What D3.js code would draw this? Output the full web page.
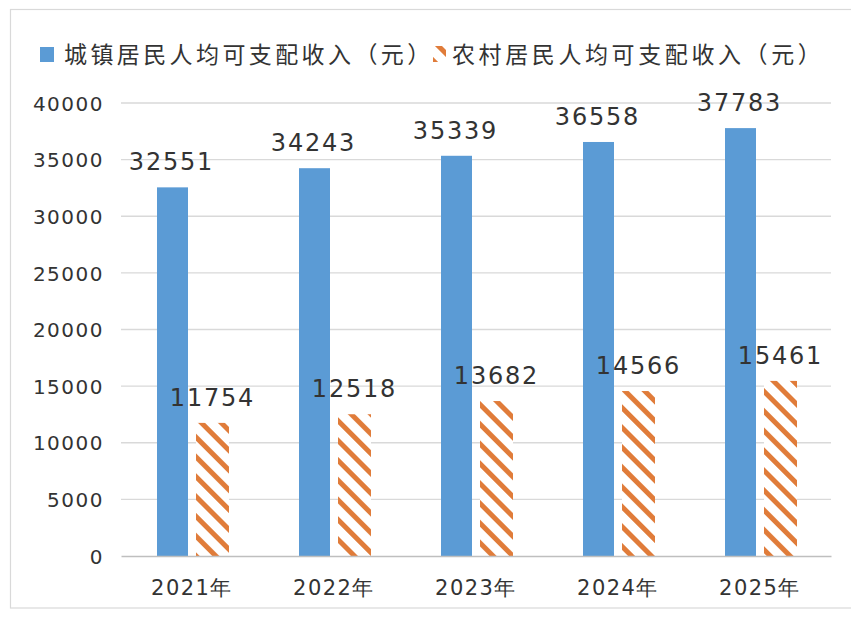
<!DOCTYPE html>
<html><head><meta charset="utf-8">
<script src="https://cdn.jsdelivr.net/npm/d3@7/dist/d3.min.js"></script>
<style>html,body{margin:0;padding:0;background:#fff;}</style>
</head><body>
<svg id="c" width="851" height="619"></svg>
<script>
const categories = ["2021年","2022年","2023年","2024年","2025年"];
const seriesNames = ["城镇居民人均可支配收入（元）","农村居民人均可支配收入（元）"];
const urban = [32551, 34243, 35339, 36558, 37783];
const rural = [11754, 12518, 13682, 14566, 15461];
const yTicks = [0,5000,10000,15000,20000,25000,30000,35000,40000];

const svg = d3.select("#c");
const blue = "#5b9bd5", orange = "#e07c3a";
const numFont = "'DejaVu Sans', sans-serif";
const cjkFont = "'Noto Sans CJK SC', sans-serif";
const txt = "#333333";

// frame
svg.append("rect").attr("x",10.5).attr("y",9.5).attr("width",860).attr("height",598.5)
  .attr("fill","none").attr("stroke","#d9d9d9").attr("stroke-width",1.2);

const defs = svg.append("defs");
const pat = defs.append("pattern").attr("id","hatch").attr("patternUnits","userSpaceOnUse")
  .attr("width",14).attr("height",14).attr("patternTransform","rotate(45)");
pat.append("rect").attr("width",14).attr("height",14).attr("fill","#fff");
pat.append("rect").attr("x",0).attr("y",0).attr("width",14).attr("height",5).attr("fill",orange);

const x0 = d3.scaleBand().domain(categories).range([121, 831]).paddingInner(0).paddingOuter(0);
const y = d3.scaleLinear().domain([0,40000]).range([556,103]);

// gridlines
svg.append("g").selectAll("line").data(yTicks.filter(d=>d>0)).join("line")
  .attr("x1",121).attr("x2",831).attr("y1",d=>y(d)).attr("y2",d=>y(d))
  .attr("stroke","#d9d9d9").attr("stroke-width",1.3);

// y axis labels
const yAxis = d3.axisLeft(y).tickValues(yTicks).tickSize(0).tickPadding(0).tickFormat(d3.format("d"));
const ya = svg.append("g").attr("transform","translate(104,0)").call(yAxis);
ya.select(".domain").remove();
ya.selectAll("text").attr("font-family",numFont).attr("font-size",20).attr("fill",txt)
  .attr("letter-spacing","1.5px").attr("dy","0.36em");

// bars
const bw = 31, ow = 33, gap = 8;
const groupW = bw + gap + ow;
const g = svg.append("g");
categories.forEach((c,i)=>{
  const gx = x0(c) + (x0.bandwidth()-groupW)/2 + 1;
  g.append("rect").attr("x",gx).attr("y",y(urban[i])).attr("width",bw).attr("height",y(0)-y(urban[i])).attr("fill",blue);
  g.append("rect").attr("x",gx+bw+gap).attr("y",y(rural[i])).attr("width",ow).attr("height",y(0)-y(rural[i])).attr("fill","url(#hatch)");
  g.append("text").attr("x",gx+bw/2-1).attr("y",y(urban[i])-17).attr("text-anchor","middle")
    .attr("font-family",numFont).attr("font-size",24).attr("letter-spacing","1.8px").attr("fill",txt).text(urban[i]);
  g.append("text").attr("x",gx+bw+gap+ow/2).attr("y",y(rural[i])-17).attr("text-anchor","middle")
    .attr("font-family",numFont).attr("font-size",24).attr("letter-spacing","1.8px").attr("fill",txt).text(rural[i]);
});

// x axis
const xAxis = d3.axisBottom(x0).tickSize(0).tickPadding(0);
const xa = svg.append("g").attr("transform",`translate(0,${y(0)})`).call(xAxis);
xa.select(".domain").attr("stroke","#bfbfbf").attr("stroke-width",1.5);
xa.selectAll("text").attr("font-family",numFont).attr("font-size",21).attr("fill",txt)
  .attr("letter-spacing","1.5px").attr("dy","0").attr("y",39);

// legend
const lg = svg.append("g");
lg.append("rect").attr("x",40).attr("y",47).attr("width",14).attr("height",15).attr("fill",blue);
lg.append("text").attr("x",64).attr("y",63).attr("font-family",cjkFont).attr("font-size",23)
  .attr("letter-spacing","3.4px").attr("fill",txt).text(seriesNames[0]);
lg.append("rect").attr("x",433).attr("y",46).attr("width",13).attr("height",16).attr("fill","url(#hatch)");
lg.append("text").attr("x",452).attr("y",63).attr("font-family",cjkFont).attr("font-size",23)
  .attr("letter-spacing","3.6px").attr("fill",txt).text(seriesNames[1]);
</script>
</body></html>
